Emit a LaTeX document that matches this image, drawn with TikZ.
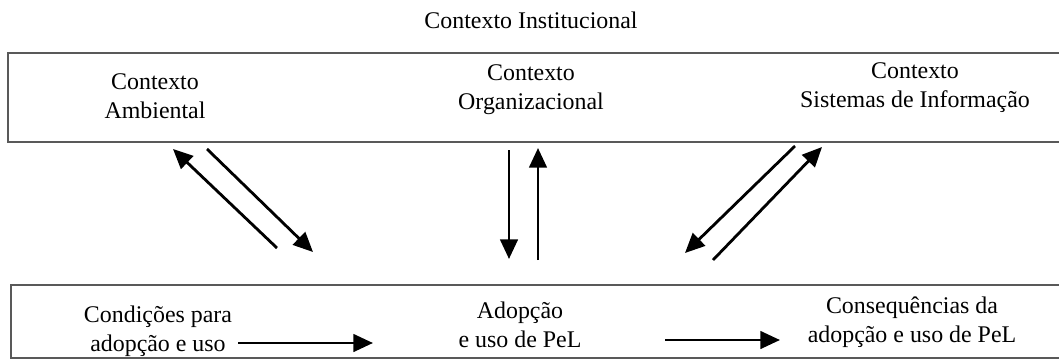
\documentclass[tikz,border=0pt]{standalone}
\usepackage{fontspec}
\setmainfont{Liberation Serif}
\usetikzlibrary{arrows.meta}
\tikzset{>={Triangle[length=14pt,width=12.5pt]}}

\begin{document}
\begin{tikzpicture}[x=0.025cm,y=-0.025cm,font=\fontsize{17}{20.5}\selectfont]
        \useasboundingbox (0,0) rectangle (1059,363);

        \coordinate (a1s) at (277,248);
        \coordinate (a1e) at (173,149);
        \coordinate (a2s) at (207,149);
        \coordinate (a2e) at (313,252);
        \coordinate (o1s) at (509,150);
        \coordinate (o1e) at (509,259);
        \coordinate (o2s) at (538,260);
        \coordinate (o2e) at (538,148);
        \coordinate (s1s) at (795,146);
        \coordinate (s1e) at (685,253);
        \coordinate (s2s) at (713,260);
        \coordinate (s2e) at (822,147);
        \coordinate (h1s) at (238,343);
        \coordinate (h1e) at (373,343);
        \coordinate (h2s) at (665,340);
        \coordinate (h2e) at (780,340);

        \draw[black!65,line width=0.9pt] (1080,53) -- (8,53) -- (8,142) -- (1080,142);
        \draw[black!65,line width=0.9pt] (1080,285) -- (11,285) -- (11,358) -- (1080,358);

        \node (inst) at (531,20) {Contexto Institucional};
        \node[align=center] (amb) at (155,96) {Contexto\\Ambiental};
        \node[align=center] (org) at (531,90) {Contexto\\Organizacional};
        \node[align=center] (si) at (915,88) {Contexto\\Sistemas de Informação};
        \node[align=center] (cond) at (158,331) {Condições para\\adopção e uso};
        \node[align=center] (adop) at (520,325) {Adopção\\e uso de PeL};
        \node[align=center] (cons) at (912,322) {Consequências da\\adopção e uso de PeL};

        \foreach \a/\b in {a1s/a1e,a2s/a2e,o1s/o1e,o2s/o2e,s1s/s1e,s2s/s2e,h1s/h1e,h2s/h2e}
            \draw[->,line width=2pt] (\a) -- (\b);
    \end{tikzpicture}
\end{document}
